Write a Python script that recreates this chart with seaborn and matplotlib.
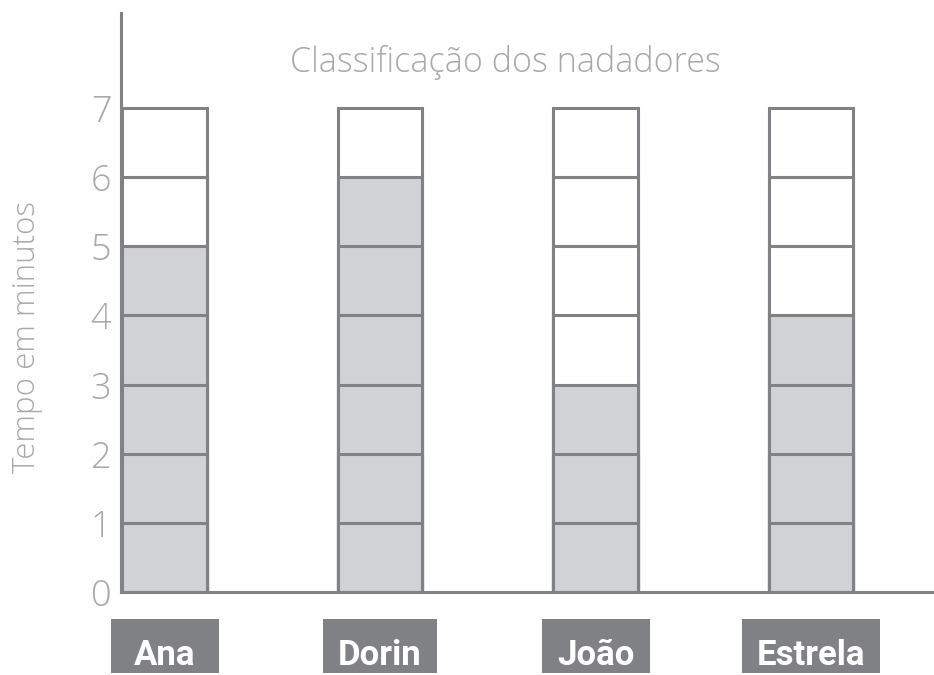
import matplotlib
matplotlib.use('Agg')
import matplotlib.pyplot as plt
import seaborn as sns
import pandas as pd
from matplotlib.patches import Rectangle
from matplotlib.transforms import IdentityTransform

# ---- data ----
names = ['Ana', 'Dorin', 'João', 'Estrela']
tempos = [5, 6, 3, 4]
y_max = 7
y_ticks = [0, 1, 2, 3, 4, 5, 6, 7]
title = 'Classificação dos nadadores'
ylabel = 'Tempo em minutos'

# ---- style ----
line_c = '#818285'
fill_c = '#d1d2d4'
text_c = '#a7a9ac'
box_c = '#808184'

sns.set_style('white')
plt.rcParams['font.family'] = ['Open Sans', 'DejaVu Sans']

W, H = 934, 675
fig = plt.figure(figsize=(W / 100, H / 100), dpi=100)
x0, y0, y_top = 121, 592, 13
ax = fig.add_axes([x0 / W, (H - y0) / H, 1 - x0 / W, (y0 - y_top) / H])

# stacked cells: draw the tallest level first, smaller levels on top
for k in range(y_max, 0, -1):
    df = pd.DataFrame({'nome': names, 'nivel': [k] * len(names)})
    pal = {n: (fill_c if k <= t else 'white') for n, t in zip(names, tempos)}
    sns.barplot(data=df, x='nome', y='nivel', hue='nome', palette=pal,
                legend=False, width=0.394, edgecolor=line_c, linewidth=2.2,
                saturation=1, errorbar=None, ax=ax)

unit_px = (y0 - 108) / 7.0
ax.set_ylim(0, (y0 - y_top) / unit_px)
ax.set_xlim((x0 - 164.5) / 215.5, (W - 164.5) / 215.5)

for s in ['top', 'right']:
    ax.spines[s].set_visible(False)
for s in ['left', 'bottom']:
    ax.spines[s].set_color(line_c)
    ax.spines[s].set_linewidth(2.2)

ax.set_yticks(y_ticks)
ax.set_yticklabels([str(v) for v in y_ticks])
ax.tick_params(axis='y', length=0, pad=7, labelsize=26, labelcolor=text_c)
for lbl in ax.get_yticklabels():
    lbl.set_fontweight('light')

ax.set_xlabel('')
ax.set_ylabel('')
ax.set_xticks(range(len(names)))
ax.set_xticklabels([])
ax.tick_params(axis='x', length=0)

# name labels in dark boxes below the axis
label_texts = []
for i, n in enumerate(names):
    t = ax.annotate(n, xy=(i, 0), xycoords=('data', 'axes fraction'),
                    xytext=(0, -73 * 0.72), textcoords='offset points',
                    ha='center', va='baseline', fontsize=25, fontweight='bold',
                    color='white', family=['Roboto', 'DejaVu Sans'],
                    annotation_clip=False, zorder=6)
    label_texts.append(t)

fig.text(505 / W, 1 - 63 / H, title, ha='center', va='center',
         fontsize=24.5, color=text_c, fontweight='light')
fig.text(27 / W, 1 - 337 / H, ylabel, ha='center', va='center', rotation=90,
         fontsize=22.5, color=text_c, fontweight='light')

fig.canvas.draw()
renderer = fig.canvas.get_renderer()
axis_y = ax.transAxes.transform((0, 0))[1]
baseline = axis_y - 73
for t in label_texts:
    bb = t.get_window_extent(renderer)
    w = max(108, bb.width + 30)
    cx = (bb.x0 + bb.x1) / 2
    rect = Rectangle((cx - w / 2, baseline - 8), w, 54, transform=IdentityTransform(),
                     facecolor=box_c, edgecolor='none', clip_on=False, zorder=5)
    ax.add_artist(rect)

fig.savefig('out.png', dpi=100)
